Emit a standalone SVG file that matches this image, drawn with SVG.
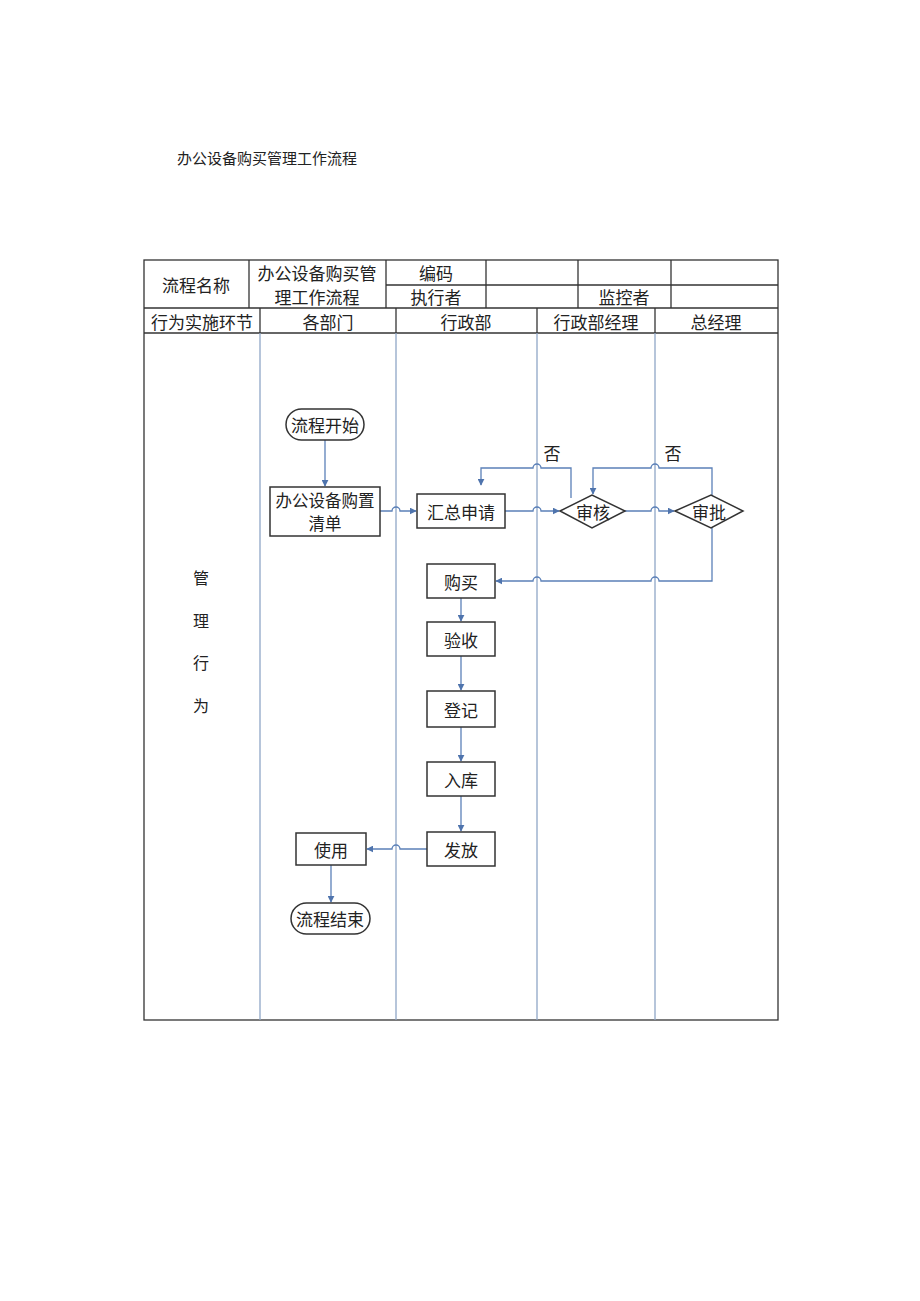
<svg xmlns="http://www.w3.org/2000/svg" width="920" height="1301" viewBox="0 0 920 1301">
<style>
text{font-family:"Noto Sans CJK SC","Liberation Sans",sans-serif;fill:#222;text-anchor:middle;dominant-baseline:central}
.t{font-size:17px}
.grid{stroke:#333;stroke-width:1.3;fill:none}
.lane{stroke:#8fa6c6;stroke-width:1.3;fill:none}
.box{stroke:#333;stroke-width:1.5;fill:#fff}
.c{stroke:#5b80b8;stroke-width:1.3;fill:none;marker-end:url(#ah)}
</style>
<defs>
<marker id="ah" viewBox="0 0 10 10" refX="9" refY="5" markerWidth="7" markerHeight="7" orient="auto" markerUnits="userSpaceOnUse">
<path d="M0,0 L10,5 L0,10 z" fill="#4f74ad"/>
</marker>
</defs>
<rect width="920" height="1301" fill="#fff"/>
<text x="267" y="157" style="font-size:15px">办公设备购买管理工作流程</text>

<g id="table">
<rect class="grid" x="144" y="260" width="634" height="760"/>
<line class="grid" x1="144" y1="308" x2="778" y2="308"/>
<line class="grid" x1="144" y1="333" x2="778" y2="333"/>
<line class="grid" x1="386" y1="285" x2="778" y2="285"/>
<line class="grid" x1="249" y1="260" x2="249" y2="308"/>
<line class="grid" x1="386" y1="260" x2="386" y2="308"/>
<line class="grid" x1="486" y1="260" x2="486" y2="308"/>
<line class="grid" x1="578" y1="260" x2="578" y2="308"/>
<line class="grid" x1="671" y1="260" x2="671" y2="308"/>
<line class="grid" x1="260" y1="308" x2="260" y2="333"/>
<line class="grid" x1="396" y1="308" x2="396" y2="333"/>
<line class="grid" x1="537" y1="308" x2="537" y2="333"/>
<line class="grid" x1="655" y1="308" x2="655" y2="333"/>
<line class="lane" x1="260" y1="333" x2="260" y2="1020"/>
<line class="lane" x1="396" y1="333" x2="396" y2="1020"/>
<line class="lane" x1="537" y1="333" x2="537" y2="1020"/>
<line class="lane" x1="655" y1="333" x2="655" y2="1020"/>
<text class="t" x="196" y="284">流程名称</text>
<text class="t" x="317" y="272">办公设备购买管</text>
<text class="t" x="317" y="296">理工作流程</text>
<text class="t" x="436" y="272">编码</text>
<text class="t" x="436" y="296">执行者</text>
<text class="t" x="624" y="296">监控者</text>
<text class="t" x="202" y="321">行为实施环节</text>
<text class="t" x="328" y="321">各部门</text>
<text class="t" x="466" y="321">行政部</text>
<text class="t" x="596" y="321">行政部经理</text>
<text class="t" x="716" y="321">总经理</text>
<text x="201" y="577" style="font-size:16px">管</text>
<text x="201" y="620" style="font-size:16px">理</text>
<text x="201" y="662" style="font-size:16px">行</text>
<text x="201" y="705" style="font-size:16px">为</text>
</g>

<g id="connectors">
<path class="c" d="M325,440 L325,486"/>
<path class="c" d="M380,511 L392,511 A4,4 0 0 1 400,511 L416,511"/>
<path class="c" d="M505,511 L533,511 A4,4 0 0 1 541,511 L559,511"/>
<path class="c" d="M625,511 L651,511 A4,4 0 0 1 659,511 L674,511"/>
<path class="c" d="M571,498 L571,468 L541,468 A4,4 0 0 0 533,468 L481,468 L481,485"/>
<path class="c" d="M712,499 L712,468 L659,468 A4,4 0 0 0 651,468 L593,468 L593,494"/>
<path class="c" d="M712,525 L712,581 L659,581 A4,4 0 0 0 651,581 L541,581 A4,4 0 0 0 533,581 L496,581"/>
<path class="c" d="M461,598 L461,621"/>
<path class="c" d="M461,656 L461,690"/>
<path class="c" d="M461,727 L461,761"/>
<path class="c" d="M461,796 L461,831"/>
<path class="c" d="M427,849 L400,849 A4,4 0 0 0 392,849 L367,849"/>
<path class="c" d="M331,865 L331,902"/>
<text class="t" x="552" y="452">否</text>
<text class="t" x="673" y="452">否</text>
</g>

<g id="start">
<rect class="box" x="286" y="409" width="78" height="31" rx="15.5"/>
<text class="t" x="325" y="424">流程开始</text>
</g>
<g id="list">
<rect class="box" x="270" y="487" width="110" height="49"/>
<text x="325" y="500" style="font-size:16.5px">办公设备购置</text>
<text x="325" y="523" style="font-size:16.5px">清单</text>
</g>
<g id="summary">
<rect class="box" x="417" y="494" width="88" height="34"/>
<text class="t" x="461" y="511">汇总申请</text>
</g>
<g id="review">
<polygon class="box" points="560,511 592,495 625,511 592,528"/>
<text class="t" x="593" y="511">审核</text>
</g>
<g id="approve">
<polygon class="box" points="675,511 711,495 743,511 711,528"/>
<text class="t" x="709" y="511">审批</text>
</g>
<g id="buy">
<rect class="box" x="427" y="564" width="68" height="34"/>
<text class="t" x="461" y="581">购买</text>
</g>
<g id="accept">
<rect class="box" x="427" y="622" width="68" height="34"/>
<text class="t" x="461" y="639">验收</text>
</g>
<g id="register">
<rect class="box" x="427" y="691" width="68" height="36"/>
<text class="t" x="461" y="709">登记</text>
</g>
<g id="store">
<rect class="box" x="427" y="762" width="68" height="34"/>
<text class="t" x="461" y="779">入库</text>
</g>
<g id="issue">
<rect class="box" x="427" y="832" width="68" height="34"/>
<text class="t" x="461" y="849">发放</text>
</g>
<g id="use">
<rect class="box" x="296" y="833" width="70" height="32"/>
<text class="t" x="331" y="849">使用</text>
</g>
<g id="end">
<rect class="box" x="291" y="903" width="79" height="31" rx="15.5"/>
<text class="t" x="330" y="918">流程结束</text>
</g>
</svg>
